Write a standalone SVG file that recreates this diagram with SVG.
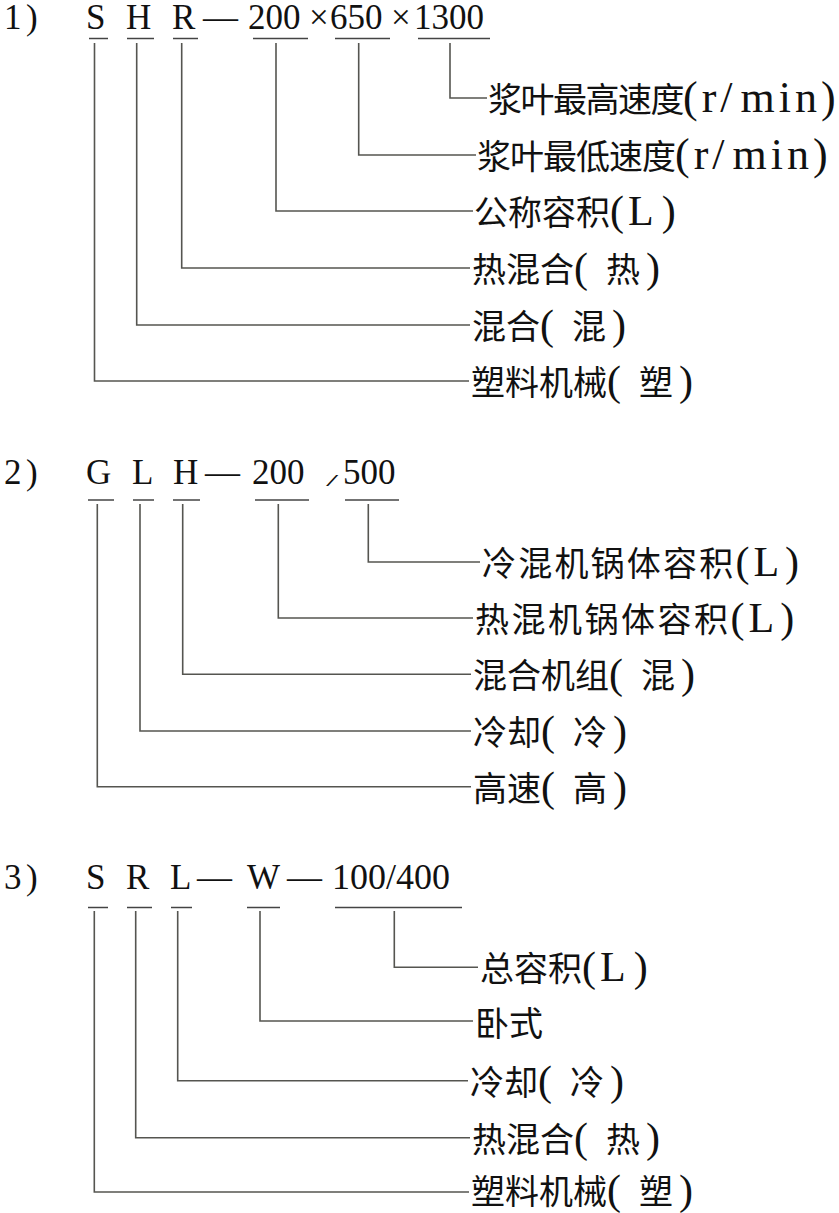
<svg xmlns="http://www.w3.org/2000/svg" width="839" height="1213" viewBox="0 0 839 1213">
<style>
.bg{fill:#ffffff}
.code{font-family:"Liberation Serif","Times New Roman",serif;font-size:35px;fill:#111}
.lab{font-family:"Liberation Serif","Noto Sans CJK SC",serif;font-size:34px;fill:#111}
.cj{font-family:"Noto Sans CJK SC",sans-serif;font-size:34px}
.lp{font-family:"Liberation Serif",serif;font-size:42px}
.rm{font-family:"Liberation Serif",serif;font-size:44px;letter-spacing:4px}
.ul{stroke:#444;stroke-width:1.5;fill:none}
.con{stroke:#555550;stroke-width:1.6;fill:none}
</style>
<rect class="bg" x="0" y="0" width="839" height="1213"/>

<!-- Section 1 header -->
<g id="header1">
<text class="code" x="4" y="29">1</text>
<text class="code" x="26" y="29">)</text>
<g id="code1-S"><text class="code" x="86" y="29">S</text><line class="ul" x1="89" y1="38.5" x2="108" y2="38.5"/></g>
<g id="code1-H"><text class="code" x="126" y="29">H</text><line class="ul" x1="127" y1="38.5" x2="154" y2="38.5"/></g>
<g id="code1-R"><text class="code" x="172" y="29">R</text><line class="ul" x1="173" y1="38.5" x2="198" y2="38.5"/></g>
<text class="code" x="203" y="29">—</text>
<g id="code1-200"><text class="code" x="248" y="29">200</text><line class="ul" x1="253" y1="38.5" x2="308" y2="38.5"/></g>
<text class="code" x="309" y="29">×</text>
<g id="code1-650"><text class="code" x="330" y="29">650</text><line class="ul" x1="335" y1="38.5" x2="390" y2="38.5"/></g>
<text class="code" x="391" y="29">×</text>
<g id="code1-1300"><text class="code" x="414" y="29">1300</text><line class="ul" x1="418" y1="38.5" x2="490" y2="38.5"/></g>
</g>

<g id="label1-1"><text class="lab" x="488" y="112"><tspan class="cj" style="letter-spacing:-1.5px">浆叶最高速度</tspan><tspan class="rm">(r/</tspan><tspan class="rm" dx="4">min)</tspan></text></g>
<g id="label1-2"><text class="lab" x="477" y="169"><tspan class="cj" style="letter-spacing:-1px">浆叶最低速度</tspan><tspan class="rm">(r/</tspan><tspan class="rm" dx="4">min)</tspan></text></g>
<g id="label1-3"><text class="lab" x="474" y="225"><tspan class="cj">公称容积</tspan><tspan class="lp">(</tspan><tspan class="lp" dx="4">L</tspan><tspan class="lp" dx="8">)</tspan></text></g>
<g id="label1-4"><text class="lab" x="472" y="282"><tspan class="cj">热混合</tspan><tspan class="lp">(</tspan><tspan class="cj" dx="18">热</tspan><tspan class="lp" dx="6">)</tspan></text></g>
<g id="label1-5"><text class="lab" x="472" y="339"><tspan class="cj">混合</tspan><tspan class="lp">(</tspan><tspan class="cj" dx="18">混</tspan><tspan class="lp" dx="6">)</tspan></text></g>
<g id="label1-6"><text class="lab" x="471" y="395"><tspan class="cj">塑料机械</tspan><tspan class="lp">(</tspan><tspan class="cj" dx="18">塑</tspan><tspan class="lp" dx="6">)</tspan></text></g>

<!-- Section 2 header -->
<g id="header2">
<text class="code" x="4" y="484">2</text>
<text class="code" x="26" y="484">)</text>
<g id="code2-G"><text class="code" x="86" y="484">G</text><line class="ul" x1="88" y1="500" x2="114" y2="500"/></g>
<g id="code2-L"><text class="code" x="132" y="484">L</text><line class="ul" x1="133" y1="500" x2="154" y2="500"/></g>
<g id="code2-H"><text class="code" x="173" y="484">H</text><line class="ul" x1="173" y1="500" x2="200" y2="500"/></g>
<text class="code" x="205" y="484">—</text>
<g id="code2-200"><text class="code" x="252" y="484">200</text><line class="ul" x1="255" y1="500" x2="309" y2="500"/></g>
<text class="code" transform="translate(326,486) scale(2,0.8)" style="font-size:22px">/</text>
<g id="code2-500"><text class="code" x="343" y="484">500</text><line class="ul" x1="345" y1="500" x2="399" y2="500"/></g>
</g>

<g id="label2-1"><text class="lab" x="482" y="576"><tspan class="cj" style="letter-spacing:2.2px">冷混机锅体容积</tspan><tspan class="lp">(</tspan><tspan class="lp" dx="4">L</tspan><tspan class="lp" dx="6">)</tspan></text></g>
<g id="label2-2"><text class="lab" x="475" y="632"><tspan class="cj" style="letter-spacing:2.5px">热混机锅体容积</tspan><tspan class="lp">(</tspan><tspan class="lp" dx="4">L</tspan><tspan class="lp" dx="6">)</tspan></text></g>
<g id="label2-3"><text class="lab" x="473" y="688"><tspan class="cj">混合机组</tspan><tspan class="lp">(</tspan><tspan class="cj" dx="18">混</tspan><tspan class="lp" dx="6">)</tspan></text></g>
<g id="label2-4"><text class="lab" x="473" y="745"><tspan class="cj">冷却</tspan><tspan class="lp">(</tspan><tspan class="cj" dx="18">冷</tspan><tspan class="lp" dx="6">)</tspan></text></g>
<g id="label2-5"><text class="lab" x="473" y="801"><tspan class="cj">高速</tspan><tspan class="lp">(</tspan><tspan class="cj" dx="18">高</tspan><tspan class="lp" dx="6">)</tspan></text></g>

<!-- Section 3 header -->
<g id="header3">
<text class="code" x="4" y="889">3</text>
<text class="code" x="26" y="889">)</text>
<g id="code3-S"><text class="code" x="86" y="889">S</text><line class="ul" x1="88" y1="907.5" x2="108" y2="907.5"/></g>
<g id="code3-R"><text class="code" x="126" y="889">R</text><line class="ul" x1="127" y1="907.5" x2="152" y2="907.5"/></g>
<g id="code3-L"><text class="code" x="170" y="889">L</text><line class="ul" x1="171" y1="907.5" x2="192" y2="907.5"/></g>
<text class="code" x="197" y="889">—</text>
<g id="code3-W"><text class="code" x="247" y="889">W</text><line class="ul" x1="247" y1="907.5" x2="280" y2="907.5"/></g>
<text class="code" x="287" y="889">—</text>
<g id="code3-100"><text class="code" x="332" y="889" style="font-size:36px">100/400</text><line class="ul" x1="335" y1="907.5" x2="462" y2="907.5"/></g>
</g>

<g id="label3-1"><text class="lab" x="480" y="981"><tspan class="cj">总容积</tspan><tspan class="lp">(</tspan><tspan class="lp" dx="4">L</tspan><tspan class="lp" dx="8">)</tspan></text></g>
<g id="label3-2"><text class="lab" x="475" y="1036"><tspan class="cj">卧式</tspan></text></g>
<g id="label3-3"><text class="lab" x="470" y="1095"><tspan class="cj">冷却</tspan><tspan class="lp">(</tspan><tspan class="cj" dx="18">冷</tspan><tspan class="lp" dx="6">)</tspan></text></g>
<g id="label3-4"><text class="lab" x="472" y="1152"><tspan class="cj">热混合</tspan><tspan class="lp">(</tspan><tspan class="cj" dx="18">热</tspan><tspan class="lp" dx="6">)</tspan></text></g>
<g id="label3-5"><text class="lab" x="471" y="1204"><tspan class="cj">塑料机械</tspan><tspan class="lp">(</tspan><tspan class="cj" dx="18">塑</tspan><tspan class="lp" dx="6">)</tspan></text></g>

<g id="connectors">
<path class="con" d="M450 43 V98 H487"/>
<path class="con" d="M358.7 43 V155 H476"/>
<path class="con" d="M276 43 V211 H473"/>
<path class="con" d="M181.7 43 V268 H470"/>
<path class="con" d="M136.7 43 V325 H470"/>
<path class="con" d="M94.5 43 V381 H469"/>

<path class="con" d="M368.3 504 V562 H480"/>
<path class="con" d="M278.3 504 V618 H473"/>
<path class="con" d="M182.7 504 V674.3 H471"/>
<path class="con" d="M140 504 V731 H471"/>
<path class="con" d="M97.3 504 V786.7 H471"/>

<path class="con" d="M394.3 911 V967.3 H478"/>
<path class="con" d="M260 911 V1021 H473"/>
<path class="con" d="M177.7 911 V1080.7 H468"/>
<path class="con" d="M135.7 911 V1137.7 H470"/>
<path class="con" d="M94.3 911 V1192 H469"/>
</g>
</svg>
